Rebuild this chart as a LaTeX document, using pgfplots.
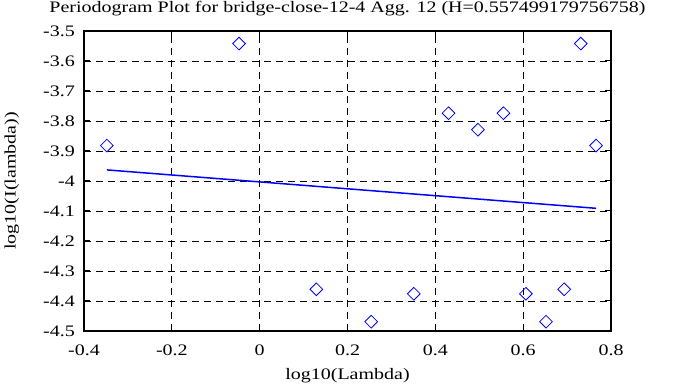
\documentclass[border=0pt]{standalone}
\usepackage{pgfplots}
\pgfplotsset{compat=1.18}
\usepackage{fontspec}
\setmainfont{Liberation Serif}[FakeStretch=1.25]
\pgfplotstableread{
x y
-0.3480 -3.882
-0.0470 -3.542
0.1291 -4.361
0.2540 -4.469
0.3509 -4.376
0.4301 -3.774
0.4971 -3.829
0.5551 -3.774
0.6062 -4.376
0.6520 -4.469
0.6934 -4.361
0.7312 -3.542
0.7660 -3.882
}\pdata
\pgfplotstableread{
x y
-0.3480 -3.963
0.7660 -4.091
}\fitdata
\begin{document}
\begin{tikzpicture}
\path[use as bounding box, fill=white] (0,0) rectangle (695bp,387bp);
\begin{axis}[
  at={(84bp,56bp)}, anchor=south west,
  scale only axis,
  width=527bp, height=300bp,
  xmin=-0.4, xmax=0.8, ymin=-4.5, ymax=-3.5,
  xtick={-0.4,-0.2,0,0.2,0.4,0.6,0.8},
  xticklabels={-0.4,-0.2,0,0.2,0.4,0.6,0.8},
  ytick={-4.5,-4.4,-4.3,-4.2,-4.1,-4,-3.9,-3.8,-3.7,-3.6,-3.5},
  yticklabels={-4.5,-4.4,-4.3,-4.2,-4.1,-4,-3.9,-3.8,-3.7,-3.6,-3.5},
  tick align=inside,
  major tick length=6bp,
  every tick/.style={black, line width=1bp},
  grid=major,
  major grid style={black, line width=0.8bp, dash pattern=on 7bp off 5bp},
  axis line style={black, line width=2bp},
  tick label style={font=\fontsize{16bp}{19bp}\selectfont},
  xticklabel style={anchor=base, inner sep=0pt, yshift=-24bp},
  yticklabel style={anchor=east, inner sep=0pt, xshift=-9bp},
  xlabel={log10(Lambda)},
  xlabel style={font=\fontsize{16bp}{19bp}\selectfont, at={(axis description cs:0.5,-0.16)}, anchor=base, inner sep=0pt},
  ylabel={log10(I(lambda))},
  ylabel style={font=\fontsize{16bp}{19bp}\selectfont, at={(axis description cs:-0.137,0.5)}, anchor=center, inner sep=0pt},
]
\addplot[only marks, mark=square, mark size=4.5bp, mark options={rotate=45, draw=blue, line width=0.8bp}] table[x=x,y=y] {\pdata};
\addplot[blue, line width=1.5bp, no marks] table[x=x,y=y] {\fitdata};
\end{axis}
\node[font=\fontsize{16bp}{19bp}\selectfont, anchor=base, inner sep=0pt] at (347.5bp,374bp) {Periodogram Plot for bridge-close-12-4 Agg. 12 (H=0.557499179756758)};
\end{tikzpicture}
\end{document}
